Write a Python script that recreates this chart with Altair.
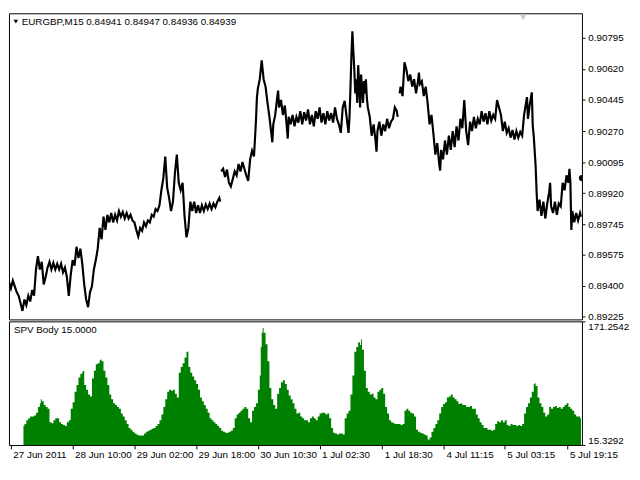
import altair as alt
import pandas as pd

FONT = "Liberation Sans"
W, H1, H2 = 584, 312, 126

header_text = "EURGBP,M15  0.84941 0.84947 0.84936 0.84939"
indicator_text = "SPV Body 15.0000"

price_ticks = [0.89225, 0.89400, 0.89575, 0.89745, 0.89920, 0.90095, 0.90270, 0.90445, 0.90620, 0.90795]
spv_ticks = [15.3292, 171.2542]
time_ticks = [2, 66, 130, 194, 258, 322, 387, 451, 514, 579]
time_labels = ["27 Jun 2011", "28 Jun 10:00", "29 Jun 02:00", "29 Jun 18:00", "30 Jun 10:30",
               "1 Jul 02:30", "1 Jul 18:30", "4 Jul 11:15", "5 Jul 03:15", "5 Jul 19:15"]

seg1_bar = [0,2,4,6,8,10,12,14,16,18,20,22,24,26,28,30,32,34,36,38,40,42,44,46,48,50,52,54,56,58,
            60,62,64,66,68,70,72,74,76,78,80,82,84,86,88,90,92,94,96,98,100,102,104,106,108,110,112,
            114,116,118,120,122,124,126,128,130,132,134,136,138,140,142,144,146,148,150,152,154,156,
            158,160,162,164,166,168,170,172,174,176,178,180,182,184,186,188,190,192,194,196,198,200,
            202,204,206,208,210,212,214,216,218,219]
seg1_price = [0.89422,0.89385,0.89428,0.89396,0.89364,0.89343,0.89301,0.89258,0.89322,0.89290,
              0.89343,0.89311,0.89375,0.89343,0.89491,0.89566,0.89491,0.89534,0.89407,0.89449,
              0.89502,0.89534,0.89491,0.89528,0.89491,0.89523,0.89491,0.89523,0.89475,0.89502,
              0.89449,0.89343,0.89460,0.89544,0.89513,0.89619,0.89555,0.89608,0.89523,0.89407,
              0.89322,0.89279,0.89364,0.89396,0.89491,0.89544,0.89608,0.89725,0.89661,0.89788,
              0.89714,0.89799,0.89756,0.89809,0.89756,0.89799,0.89767,0.89820,0.89788,0.89815,
              0.89778,0.89809,0.89778,0.89799,0.89767,0.89756,0.89714,0.89677,0.89725,0.89709,
              0.89756,0.89735,0.89767,0.89756,0.89799,0.89788,0.89831,0.89820,0.89852,0.89937,
              0.90005,0.90127,0.89952,0.89894,0.89820,0.89873,0.90032,0.90138,0.89979,0.89937,
              0.89979,0.89793,0.89672,0.89725,0.89873,0.89820,0.89873,0.89809,0.89852,0.89809,
              0.89852,0.89820,0.89857,0.89831,0.89862,0.89831,0.89862,0.89841,0.89873,0.89894,
              0.89873]

seg2_bar = [220,222,224,226,228,230,232,234,236,238,240,242,244,246,248,250,252,254,256,257,258,
            260,262,264,266,268,270,272,273,274,276,278,279,280,282,284,286,288,289,290,292,294,296,
            298,300,302,304,306,308,310,312,314,316,318,320,322,324,326,328,330,332,334,336,338,340,
            342,344,346,348,350,352,353,354,355,356,357,358,359,360,361,362,363,364,365,366,367,368,
            369,370,371,372,374,376,378,380,381,382,384,386,388,390,392,394,396,398,400,402,403]
seg2_price = [0.90043,0.90058,0.90011,0.90053,0.89979,0.89958,0.90000,0.90043,0.90021,0.90085,
              0.90043,0.90096,0.90058,0.90021,0.89990,0.90111,0.90159,0.90127,0.90323,0.90456,
              0.90509,0.90562,0.90668,0.90562,0.90520,0.90429,0.90350,0.90255,0.90207,0.90308,
              0.90361,0.90456,0.90498,0.90403,0.90445,0.90361,0.90414,0.90297,0.90228,0.90350,
              0.90308,0.90361,0.90297,0.90350,0.90318,0.90382,0.90308,0.90376,0.90329,0.90392,
              0.90308,0.90361,0.90297,0.90382,0.90339,0.90403,0.90318,0.90371,0.90308,0.90382,
              0.90329,0.90371,0.90318,0.90403,0.90339,0.90308,0.90260,0.90403,0.90440,0.90350,
              0.90260,0.90350,0.90509,0.90694,0.90832,0.90721,0.90615,0.90482,0.90562,0.90429,
              0.90641,0.90535,0.90403,0.90588,0.90509,0.90429,0.90551,0.90482,0.90562,0.90456,
              0.90403,0.90350,0.90244,0.90308,0.90217,0.90154,0.90270,0.90323,0.90244,0.90308,
              0.90270,0.90339,0.90286,0.90323,0.90339,0.90403,0.90382,0.90350]

seg3_bar = [405,406,408,410,412,414,416,418,420,422,424,425,426,428,430,432,434,436,438,440,442,444,
            446,447,448,450,452,454,456,458,460,462,464,466,468,470,472,474,476,478,480,482,484,486,
            488,490,492,494,496,498,500,502,504,506,508,510,512,514,516,518,520,522,524,526,528,530,
            532,534,536,537,538,540,542,543,544,546,547,548,550,552,554,556,558,560,561,562,564,566,
            568,570,572,574,576,578,580,581,582,583,584,586,588,590,592,593]
seg3_price = [0.90482,0.90520,0.90467,0.90657,0.90615,0.90551,0.90588,0.90520,0.90562,0.90482,
              0.90551,0.90599,0.90535,0.90551,0.90467,0.90520,0.90429,0.90308,0.90361,0.90255,
              0.90138,0.90202,0.90085,0.90048,0.90164,0.90111,0.90217,0.90138,0.90244,0.90164,
              0.90270,0.90180,0.90297,0.90217,0.90339,0.90286,0.90445,0.90270,0.90191,0.90323,
              0.90270,0.90350,0.90286,0.90339,0.90308,0.90382,0.90323,0.90371,0.90308,0.90382,
              0.90329,0.90361,0.90339,0.90445,0.90403,0.90361,0.90270,0.90323,0.90260,0.90286,
              0.90233,0.90276,0.90223,0.90270,0.90233,0.90265,0.90244,0.90361,0.90429,0.90461,
              0.90339,0.90424,0.90488,0.90297,0.90244,0.90069,0.89926,0.89820,0.89884,0.89793,
              0.89873,0.89778,0.89862,0.89926,0.89979,0.89846,0.89809,0.89873,0.89799,0.89862,
              0.89846,0.89979,0.89937,0.90021,0.89979,0.90058,0.89979,0.89714,0.89820,0.89756,
              0.89809,0.89767,0.89809,0.89788]

spv_points = [(15,39.3),(16,41.7),(18,46.5),(20,48.9),(22,51.3),(24,51.3),(26,52.5),(28,56.1),(30,63.3),
    (32,68.1),(33,72.9),(34,70.5),(36,65.7),(38,63.3),(40,60.9),(42,44.1),(44,42.9),(46,46.5),(48,48.9),
    (50,48.9),(52,44.1),(54,41.7),(56,40.5),(58,39.3),(60,44.1),(62,46.5),(64,60.9),(66,69.3),(68,82.5),
    (70,90.9),(72,100.5),(74,105.3),(76,107.7),(77,108.9),(78,90.9),(80,84.9),(82,78.9),(84,76.5),(86,99.3),
    (88,108.9),(90,117.3),(92,118.5),(94,122.1),(95,123.3),(96,120.9),(98,108.9),(100,100.5),(102,90.9),
    (104,78.9),(106,72.9),(108,68.1),(110,65.7),(112,63.3),(114,60.9),(116,54.9),(118,51.3),(120,46.5),
    (122,41.7),(124,36.9),(126,34.5),(128,32.1),(130,29.7),(132,28.5),(134,27.3),(136,27.3),(138,27.3),
    (140,29.7),(142,32.1),(144,33.3),(146,34.5),(148,35.7),(150,36.9),(152,39.3),(154,41.7),(156,46.5),
    (158,53.7),(160,63.3),(162,72.9),(164,82.5),(166,84.9),(168,83.7),(170,84.9),(172,80.1),(174,75.3),
    (176,106.5),(178,113.7),(180,118.5),(182,125.7),(184,132.9),(186,113.7),(188,106.5),(190,101.7),
    (192,96.9),(194,92.1),(196,84.9),(198,75.3),(200,70.5),(202,65.7),(204,60.9),(206,56.1),(208,48.9),
    (210,46.5),(212,44.1),(214,41.7),(216,39.3),(218,36.9),(220,33.3),(222,32.1),(224,30.9),(226,30.9),
    (228,32.1),(230,33.3),(232,36.9),(234,48.9),(236,53.7),(238,56.1),(240,58.5),(242,60.9),(244,63.3),
    (246,60.9),(248,48.9),(250,44.1),(252,58.5),(254,63.3),(256,68.1),(258,84.9),(260,102.9),(261,138.9),
    (262,156.9),(263,162.9),(264,156.9),(266,142.5),(268,120.9),(270,87.3),(272,72.9),(274,65.7),(276,60.9),
    (278,80.1),(280,87.3),(282,94.5),(284,96.9),(286,92.1),(288,84.9),(290,77.7),(292,72.9),(294,68.1),
    (296,60.9),(298,54.9),(300,56.1),(302,51.3),(304,48.9),(306,46.5),(308,46.5),(310,44.1),(312,48.9),
    (314,51.3),(316,48.9),(318,46.5),(320,51.3),(322,54.9),(324,56.1),(326,56.1),(328,53.7),(330,54.9),
    (332,48.9),(334,36.9),(336,30.9),(338,29.7),(340,28.5),(342,29.7),(344,29.7),(346,28.5),(348,48.9),
    (350,54.9),(352,58.5),(354,78.9),(356,102.9),(358,132.9),(360,138.9),(362,144.9),(364,141.3),(365,148.5),
    (366,135.3),(368,108.9),(370,87.3),(372,82.5),(374,78.9),(376,80.1),(378,75.3),(380,72.9),(382,82.5),
    (384,84.9),(386,87.3),(388,80.1),(390,63.3),(392,54.9),(394,46.5),(396,44.1),(398,42.9),(400,41.7),
    (402,41.7),(404,41.7),(406,40.5),(408,41.7),(410,58.5),(412,60.9),(414,58.5),(416,56.1),(418,54.9),
    (420,51.3),(422,34.5),(424,32.1),(426,30.9),(428,29.7),(430,28.5),(432,27.3),(434,22.5),(435,21.3),
    (436,24.9),(438,32.1),(440,36.9),(442,41.7),(444,46.5),(446,54.9),(448,63.3),(450,66.9),(452,69.3),
    (454,75.3),(456,76.5),(458,78.9),(460,75.3),(462,72.9),(464,70.5),(466,66.9),(468,68.1),(470,65.7),
    (472,65.7),(474,63.3),(476,63.3),(478,64.5),(480,60.9),(482,60.9),(484,53.7),(486,48.9),(488,44.1),
    (490,40.5),(492,36.9),(494,36.9),(496,34.5),(498,34.5),(500,33.3),(502,34.5),(504,41.7),(506,45.3),
    (508,44.1),(510,46.5),(512,44.1),(514,46.5),(516,40.5),(518,39.3),(520,41.7),(522,40.5),(524,40.5),
    (526,39.3),(528,40.5),(530,39.3),(532,41.7),(534,54.9),(536,63.3),(538,68.1),(540,75.3),(542,82.5),
    (544,92.1),(545,93.3),(546,89.7),(548,75.3),(550,68.1),(552,63.3),(554,56.1),(556,51.3),(558,53.7),
    (560,63.3),(562,60.9),(564,63.3),(566,64.5),(568,62.1),(570,63.3),(572,60.9),(574,63.3),(576,65.7),
    (578,68.1),(580,63.3),(582,60.9),(584,58.5),(586,53.7),(588,51.3),(590,51.3),(592,48.9),(593,51.3)]

price_df = pd.DataFrame({
    "bar": seg1_bar + seg2_bar + seg3_bar,
    "price": seg1_price + seg2_price + seg3_price,
    "seg": ["a"] * len(seg1_bar) + ["b"] * len(seg2_bar) + ["c"] * len(seg3_bar),
})
spv_df = pd.DataFrame(spv_points, columns=["bar", "spv"])

xscale = alt.Scale(domain=[0, 594], nice=False, zero=False)
price_scale = alt.Scale(domain=[0.89210, 0.90933], nice=False, zero=False)
spv_scale = alt.Scale(domain=[15.3292, 171.2542], nice=False, zero=False)

label_expr = ("[" + ",".join("'%s'" % t for t in time_labels) + "][indexof(["
              + ",".join(str(v) for v in time_ticks) + "], datum.value)]")

price_line = alt.Chart(price_df).mark_line(color="black", strokeWidth=2.2, strokeJoin="miter",
                                           clip=True).encode(
    x=alt.X("bar:Q", scale=xscale, axis=None),
    y=alt.Y("price:Q", scale=price_scale,
            axis=alt.Axis(orient="right", values=price_ticks, format=".5f", title=None,
                          tickSize=3, labelPadding=3)),
    detail="seg:N",
)

one = pd.DataFrame({"t": [header_text]})
tri = alt.Chart(one).mark_point(shape="triangle-down", filled=True, color="black",
                                size=22, opacity=1).encode(x=alt.value(7), y=alt.value(8.5))
header = alt.Chart(one).mark_text(align="left", baseline="middle", font=FONT, fontSize=10,
                                  color="black").encode(x=alt.value(13), y=alt.value(8.5), text="t:N")
shift_mark = alt.Chart(one).mark_point(shape="triangle-down", filled=True, color="#c8c8c8",
                                       size=45, opacity=1).encode(x=alt.value(524), y=alt.value(4))
dot = alt.Chart(one).mark_point(shape="circle", filled=True, color="black", size=40, opacity=1,
                                clip=True).encode(x=alt.value(W), y=alt.value(168))

top = alt.layer(price_line, tri, header, shift_mark, dot).properties(width=W, height=H1)

hist = alt.Chart(spv_df).mark_area(color="#008000", opacity=1, interpolate="step-after",
                                   clip=True).encode(
    x=alt.X("bar:Q", scale=xscale,
            axis=alt.Axis(orient="bottom", values=time_ticks, labelExpr=label_expr, title=None,
                          labelAlign="left", labelBaseline="top", labelFlush=False, labelOffset=2,
                          tickSize=4, labelPadding=1, labelOverlap=False)),
    y=alt.Y("spv:Q", scale=spv_scale,
            axis=alt.Axis(orient="right", values=spv_ticks, format=".4f", title=None,
                          labelFlush=True, tickSize=3, labelPadding=3)),
    y2=alt.value(H2),
)
ind_label = alt.Chart(pd.DataFrame({"t": [indicator_text]})).mark_text(
    align="left", baseline="middle", font=FONT, fontSize=10, color="black"
).encode(x=alt.value(5), y=alt.value(8.5), text="t:N")

bottom = alt.layer(hist, ind_label).properties(width=W, height=H2)

chart = alt.vconcat(top, bottom, spacing=2, bounds="flush").configure_view(
    stroke="black", strokeWidth=1
).configure_axis(
    labelFont=FONT, labelFontSize=10, labelColor="black", tickColor="black",
    domain=False, grid=False
).properties(
    padding={"left": 0, "top": 0, "right": 2, "bottom": 0}, background="white"
)

chart.save("out.html", embed_options={"renderer": "svg", "actions": False})
